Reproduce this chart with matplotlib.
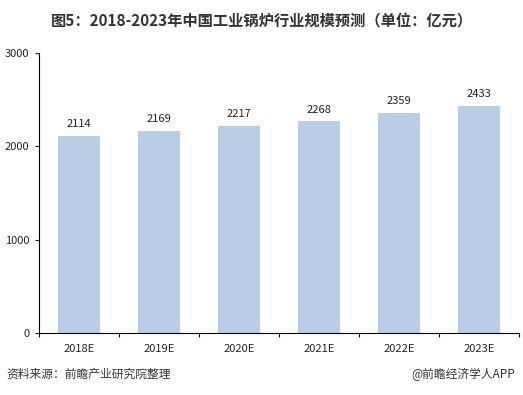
import matplotlib.pyplot as plt
import numpy as np

plt.rcParams['font.family'] = ['Noto Sans CJK SC', 'DejaVu Sans']

years = ['2018E', '2019E', '2020E', '2021E', '2022E', '2023E']
values = [2114, 2169, 2217, 2268, 2359, 2433]

fig = plt.figure(figsize=(5.23, 3.95), dpi=100)
ax = fig.add_axes([0.0746, 0.157, 0.918, 0.709])

x = np.arange(len(years))
ax.bar(x, values, width=0.53, color='#b9cde5', zorder=2)
for xi, v in zip(x, values):
    ax.text(xi, v + 70, str(v), ha='center', va='bottom', fontsize=8, color='#222222')

ax.set_xlim(-0.5, len(years) - 0.5)
ax.set_ylim(0, 3000)
ax.set_yticks([0, 1000, 2000, 3000])
ax.tick_params(axis='y', labelsize=8, length=3, width=0.8, colors='#222222', pad=4)

# category labels at centres, tick marks at the boundaries
ax.set_xticks(x)
ax.set_xticklabels(years, fontsize=8, color='#222222')
ax.tick_params(axis='x', length=0, pad=8)
ax.set_xticks(np.arange(-0.5, len(years)), minor=True)
ax.tick_params(axis='x', which='minor', length=3, width=0.8)

for s in ['top', 'right']:
    ax.spines[s].set_visible(False)
ax.spines['left'].set_linewidth(0.8)
ax.spines['bottom'].set_linewidth(0.8)

fig.text(0.5, 0.945, '图5：2018-2023年中国工业锅炉行业规模预测（单位：亿元）',
         ha='center', va='center', fontsize=11, fontweight='bold', color='#333333')
fig.text(0.012, 0.052, '资料来源：前瞻产业研究院整理', ha='left', va='center',
         fontsize=8.5, style='italic', color='#333333')
fig.text(0.985, 0.052, '@前瞻经济学人APP', ha='right', va='center',
         fontsize=8.5, color='#333333')

fig.savefig('out.png', dpi=100)
